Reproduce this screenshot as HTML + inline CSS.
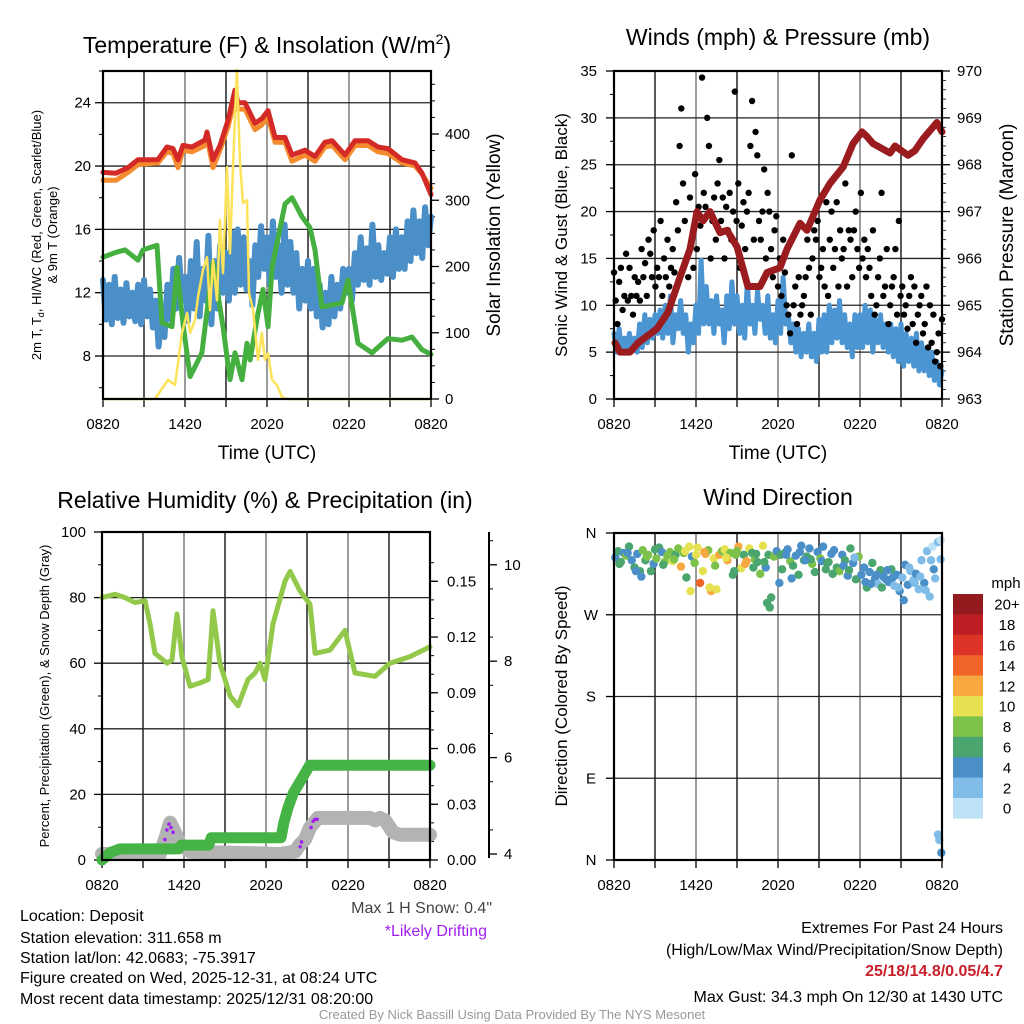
<!DOCTYPE html>
<html><head><meta charset="utf-8">
<style>
html,body{margin:0;padding:0;background:#fff;}
svg{display:block;font-family:"Liberation Sans",sans-serif;}
</style></head>
<body>
<svg id="fig" width="1024" height="1024" viewBox="0 0 1024 1024" xmlns="http://www.w3.org/2000/svg">
<rect width="1024" height="1024" fill="#fff"/>
<g id="p1"></g>
<g id="p2"></g>
<g id="p3"></g>
<g id="p4"></g>

<text x="267" y="53" font-size="23" text-anchor="middle">Temperature (F) &amp; Insolation (W/m<tspan font-size="14" dy="-9">2</tspan><tspan dy="9">)</tspan></text>
<text x="778" y="45" font-size="23" text-anchor="middle">Winds (mph) &amp; Pressure (mb)</text>
<text x="265" y="508" font-size="23" text-anchor="middle">Relative Humidity (%) &amp; Precipitation (in)</text>
<text x="778" y="505" font-size="23" text-anchor="middle">Wind Direction</text>

<text x="267" y="459" font-size="19" text-anchor="middle">Time (UTC)</text>
<text x="778" y="459" font-size="19" text-anchor="middle">Time (UTC)</text>

<text transform="translate(41,235) rotate(-90)" font-size="13" text-anchor="middle">2m T, T<tspan font-size="9" dy="3">d</tspan><tspan dy="-3">, HI/WC (Red, Green, Scarlet/Blue)</tspan></text>
<text transform="translate(57,235) rotate(-90)" font-size="13" text-anchor="middle">&amp; 9m T (Orange)</text>
<text transform="translate(500,235) rotate(-90)" font-size="19" text-anchor="middle">Solar Insolation (Yellow)</text>
<text transform="translate(567,235) rotate(-90)" font-size="17" text-anchor="middle">Sonic Wind &amp; Gust (Blue, Black)</text>
<text transform="translate(1013,235) rotate(-90)" font-size="19" text-anchor="middle">Station Pressure (Maroon)</text>
<text transform="translate(49,696) rotate(-90)" font-size="13" text-anchor="middle">Percent, Precipitation (Green), &amp; Snow Depth (Gray)</text>
<text transform="translate(567,696) rotate(-90)" font-size="17" text-anchor="middle">Direction (Colored By Speed)</text>

<text x="492" y="913" font-size="16" fill="#444" text-anchor="end">Max 1 H Snow: 0.4"</text>
<text x="487" y="936" font-size="16" fill="#a020f0" text-anchor="end">*Likely Drifting</text>

<g font-size="16">
<text x="20" y="921">Location: Deposit</text>
<text x="20" y="943">Station elevation: 311.658 m</text>
<text x="20" y="963">Station lat/lon: 42.0683; -75.3917</text>
<text x="20" y="983">Figure created on Wed, 2025-12-31, at 08:24 UTC</text>
<text x="20" y="1004">Most recent data timestamp: 2025/12/31 08:20:00</text>
</g>
<g font-size="16" text-anchor="end">
<text x="1003" y="933">Extremes For Past 24 Hours</text>
<text x="1003" y="955">(High/Low/Max Wind/Precipitation/Snow Depth)</text>
<text x="1003" y="976" fill="#c8202a" font-weight="bold">25/18/14.8/0.05/4.7</text>
<text x="1003" y="1002">Max Gust: 34.3 mph On 12/30 at 1430 UTC</text>
</g>
<text x="512" y="1019" font-size="13" fill="#999" text-anchor="middle">Created By Nick Bassill Using Data Provided By The NYS Mesonet</text>
</svg>

<script>
// ---------- DATA ----------
const timeLabels = ["0820","1420","2020","0220","0820"];
// Panel 1
const tempHours = [0,0.95,1.83,2.56,4.02,4.68,5.12,5.49,5.85,6.51,7.46,7.61,8.05,8.56,9.15,9.66,9.88,10.39,11.12,11.63,12.07,12.59,13.32,13.83,14.78,15.51,16.24,16.76,17.71,18.44,19.39,20.12,20.85,21.88,22.83,23.34,24];
const temp2m = [19.6,19.55,19.9,20.4,20.4,21.2,21.1,20.4,21.3,21.2,21.65,22.15,20.4,21.3,22.9,24.8,24,24,22.7,23.0,23.5,21.8,21.8,20.7,21,20.6,21.5,21.6,20.7,21.6,21.6,21.2,21.1,20.4,20.2,19.55,18.2];
const temp9m = [19.1,19.1,19.6,20.1,20.2,20.9,20.8,19.9,21.0,20.9,21.3,21.8,19.9,21.0,22.5,24.3,23.6,23.6,22.3,22.6,23.1,21.5,21.5,20.3,20.7,20.3,21.2,21.3,20.4,21.3,21.3,20.9,20.8,20.2,20.0,19.5,18.6];
const dewHours = [0,0.95,1.61,2.56,2.93,3.95,4.32,5.05,5.41,5.85,6.37,7.24,8.05,8.78,9.29,9.66,10.17,10.54,10.76,11.34,11.71,12.07,12.37,13.32,13.83,14.56,15.15,15.51,16.02,17.49,17.93,18.66,19.68,20.85,21.88,22.61,23.34,24];
const dewpoint = [14.25,14.55,14.7,14.05,14.7,15.0,10.1,9.85,13.6,10.1,6.7,8.2,13.9,9.85,6.5,8.2,6.5,8.8,7.75,10.7,12.2,9.85,13.6,17.6,18.0,16.8,16.1,14.7,11.1,11.35,12.8,8.8,8.2,9.1,9.0,9.2,8.4,8.1];
const windChill = [12.8,10.3,12.5,10.0,13.0,10.4,12.2,10.1,12.6,10.5,12.0,10.2,12.5,10.0,
 12.8,10.5,12.2,9.8,11.5,8.6,10.5,9.2,12.5,10.3,13.5,11.0,14.2,11.5,
 13.0,10.2,14.0,11.0,15.2,10.5,13.5,11.5,15.6,10.0,14.0,11.0,15.0,12.0,
 14.5,11.5,15.8,12.0,16.0,12.5,15.5,12.2,14.0,11.2,15.0,13.0,16.2,13.5,
 15.5,12.5,16.5,13.0,15.0,12.0,16.3,12.5,15.2,12.0,14.5,11.0,13.5,11.5,
 14.0,11.0,13.5,10.5,12.5,9.8,12.0,10.0,13.0,10.5,12.5,11.0,13.5,12.0,
 13.5,11.5,14.5,12.5,15.5,12.8,14.8,12.5,16.3,13.0,15.0,12.8,14.5,13.2,
 15.5,13.0,16.0,13.5,15.5,13.5,16.5,14.0,17.2,14.5,16.5,14.2,17.4,15.0,16.8];
const solarHours = [0,3.8,4.76,5.27,5.78,6.15,6.37,6.73,6.95,7.32,7.61,7.83,8.05,8.34,8.56,8.78,9.07,9.29,9.51,9.8,10.02,10.24,10.54,10.68,10.98,11.34,11.63,11.85,12.07,12.37,12.73,13.1,13.54,24];
const solar = [0,0,29,21,100,130,100,119,154,195,214,134,210,149,270,190,350,220,350,497,360,296,300,160,134,59,100,59,69,29,21,3,0,0];
const p1LeftTicks = [8,12,16,20,24];
const p1RightTicks = [0,100,200,300,400];
// Panel 2
const windSpeed = [7,5,7.5,5,6.5,5,7,5.5,6.5,5, 8,5.5,9,6,8.5,6.5,9,7, 9.5,6.5,10,7,11,6,9,7.5,
 10.5,7,9,5,8,6,10,7,14.8,8, 12,8,10.5,7,11,8,9.5,6,11,7.5,12.5,8, 11,7,10,6.5,12.5,8,10,7,11.5,8.5,
 10,7,11,6.5,9,6,10.5,7,13,8, 9,6,8,5,7.5,4.5,7,5,8,4.5,7,4,8.5,5, 9,5,10,6,9.5,6.5,10.5,6,9,5.5,8,4.5,9,5.5,
 9,5.5,10,6,9.5,5,8.5,6,9,5.5,8,5, 8,4.5,7.5,4,8,3.5,7,4,6.5,3.5,7,3,6,3,5.5,2.5,5,2,4,1.5,3];
const windGust = [13.5,10.5,8,12.5,14,9.5,11,15.5,10.5,14,11,9,13,11,12.5,10.5,
 16,13,14.5,11,17,15.5,13,18,12,14,13,19,11,15,13,17,12,14,16,13.5,
 21,18,27,31,23,19,15,13,21.5,17,14,24,16,20.5,18.5,34.3,22,20.5,30,27,15,19,21.5,17,23,25.5,
 19,21.5,15,20.5,18,22,17,20,32.8,19,23,14,18.5,21,16,20,22,27,31.8,17,28.5,26,19,17,20,24.5,15,22,20,
 16,13,18,19.5,12,15,11,17,13.5,10,9,7,26,10,12,8,13,9,10,11,13,17,14,9,
 15,18,17,19,13,14,16,12,21,11,17,20,14,16,21,12,18,15,16,23,12,18,17,13,18,20,16,14,22,15,17,13,
 16,14,11,18,9,10,13,15,22,11,12,16,8,10,12,13,16,9,19,11,
 12,9,10,7.5,11,13,8,12,6,9,10,11,7,8,12,5.5,10,6,9,4,5,7,3.5,8.5];
const pressHours = [0.07,0.44,1.17,1.76,3.15,3.95,4.83,5.56,6.07,6.51,7.02,7.76,8.27,9.0,9.8,10.68,11.2,12.15,12.66,13.61,14.12,15.07,15.8,16.76,17.49,18.15,18.51,18.95,20.2,20.56,21.51,22.02,22.61,23.63,24];
const pressure = [964.2,964.0,964.0,964.2,964.5,964.85,965.6,966.2,967.0,966.8,967.0,966.55,966.6,966.25,965.4,965.4,965.7,965.8,966.2,966.75,966.6,967.25,967.6,967.95,968.45,968.7,968.6,968.45,968.25,968.4,968.2,968.3,968.55,968.9,968.7];
const p2LeftTicks = [0,5,10,15,20,25,30,35];
const p2RightTicks = [963,964,965,966,967,968,969,970];
// Panel 3
const rhHours = [0,0.95,1.68,2.41,3.15,3.51,3.88,4.76,5.12,5.49,5.85,6.44,7.17,7.76,8.12,8.63,9.37,9.95,10.68,11.2,11.56,11.93,12.51,13.39,13.76,14.49,15.22,15.59,16.68,17.78,18.51,19.98,21.07,22.54,24];
const rh = [80,81,80,78.5,79,72,63,60,61,75,62,53,54,55,76,60,50,47,55,57,60,55,72,85,88,82,78,63,64,70,57,56,60,62,65];
const precipHours = [0,0.6,1.3,5.6,5.8,7.8,8.0,13.1,13.3,13.6,14.0,14.4,14.8,15.2,24];
const precip = [0,0.004,0.006,0.006,0.008,0.008,0.012,0.012,0.02,0.028,0.036,0.041,0.046,0.051,0.051];
const snowHours = [0,2.78,4.24,4.61,4.98,5.34,5.71,6.44,13.02,14.12,14.49,14.85,15.22,15.8,19.61,19.98,20.34,20.71,21.29,21.8,24];
const snowDepth = [4.0,4.0,4.0,4.3,4.65,4.45,4.2,4.05,4.0,4.05,4.2,4.3,4.55,4.75,4.75,4.7,4.75,4.7,4.45,4.4,4.4];
const driftHours = [4.6,4.75,4.9,5.05,5.2,14.5,14.6,15.3,15.45,15.6,15.75];
const driftDepth = [4.3,4.5,4.62,4.55,4.45,4.15,4.25,4.55,4.68,4.72,4.72];
const p3LeftTicks = [0,20,40,60,80,100];
const p3PrecipTicks = [0,0.03,0.06,0.09,0.12,0.15];
const p3SnowTicks = [4,6,8,10];
// Panel 4
const dirHours = [];
for (let i=0;i<120;i++) dirHours.push(0.1+i*0.2);
const dirDeg = [333,340,328,338,335,345,330,322,337,318, 341,330,336,318,326,332,344,339,328,335,
 339,329,336,343,323,338,311,345,334,327, 344,305,318,337,341,296,332,298,336,340,
 342,330,338,314,336,345,321,336,329,343, 338,331,328,315,346,322,336,289,334,340,
 305,320,338,342,329,324,335,314,346,330, 334,343,326,317,339,332,345,320,328,337,
 341,322,318,336,330,313,343,327,309,334, 314,322,300,317,327,310,304,319,312,309,
 306,320,302,314,296,311,325,303,318,308, 315,298,330,305,340,290,345,310,350,352];
const dirSpeed = [5,6,7,4,8,6,5,7,4,6, 8,7,9,6,4,8,7,5,8,9, 8,10,7,9,12,8,6,10,5,8,
 11,15,10,12,9,13,10,11,12,8, 10,12,8,6,9,12,11,7,13,10, 7,9,6,8,11,5,7,6,8,4,
 5,7,6,4,8,6,5,7,4,6, 7,5,9,6,5,8,4,7,6,5, 4,6,8,5,7,4,6,5,7,8,
 5,4,6,4,7,5,3,6,4,5, 4,6,3,5,4,3,5,4,2,3, 4,3,2,4,3,2,1,3,2,1];
const extraDirHours = [0.4,1.0,1.6,2.4,3.0,4.4,5.2,6.0,6.6,7.4,8.2,9.0,9.6,10.4,11.0,12.2,13.0,13.6,14.4,15.2,16.0,16.8,17.6,18.4,19.2,20.0,20.8,21.6,22.4,23.2,23.7,23.8,23.95,23.9,
 2.0,3.6,5.6,7.0,8.8,10.2,11.2,11.4,12.6,14.0,15.6,17.2,18.8,19.6,20.4,21.2,22.0,22.8,23.4];
const extraDirDeg = [326,338,318,334,342,331,340,336,339,324,333,340,326,337,328,336,310,339,331,329,315,324,333,306,314,319,300,322,312,330,28,22,8,331,
 312,325,296,300,318,322,283,278,336,330,327,319,304,300,311,286,305,297,320];
const extraDirSpeed = [7,4,5,8,6,9,11,10,12,9,11,8,13,6,7,6,5,4,7,4,6,5,3,4,5,4,3,2,3,2,2,2,4,3,
 4,6,10,11,7,6,6,7,4,5,6,7,5,6,4,4,3,2,4];
const speedBinLabels = ["0","2","4","6","8","10","12","14","16","18","20+"];
const speedBinColors = ["#bfe3f6","#7fbde8","#4a8fc7","#4aa56e","#7cc24a","#e6e152","#f7a841","#f0642a","#dc3528","#bd1e24","#931a1d"];
const dirLabels = ["N","E","S","W","N"];
const dirTickVals = [0,90,180,270,360];

// ---------- HELPERS ----------
const NS="http://www.w3.org/2000/svg";
function mk(parent, tag, attrs){
  const e=document.createElementNS(NS,tag);
  for(const k in attrs) e.setAttribute(k,attrs[k]);
  parent.appendChild(e); return e;
}
function txt(parent, x, y, s, size, anchor){
  const t=mk(parent,"text",{x:x,y:y,"font-size":size,"text-anchor":anchor||"middle"});
  t.textContent=s; return t;
}
function poly(parent, xs, ys, fx, fy, color, w){
  let d="";
  for(let i=0;i<xs.length;i++) d+=(i?"L":"M")+fx(xs[i]).toFixed(1)+" "+fy(ys[i]).toFixed(1);
  return mk(parent,"path",{d:d,fill:"none",stroke:color,"stroke-width":w,"stroke-linejoin":"round","stroke-linecap":"round"});
}
function idxHours(n){ const a=[]; for(let i=0;i<n;i++) a.push(i*24/(n-1)); return a; }
function frame(g, L, T, R, B, name){
  for(let i=1;i<8;i++){
    const x=L+(R-L)*i/8;
    const gl=mk(g,"line",{x1:x,y1:T,x2:x,y2:B,stroke:(i%2?"#000":"#666"),"stroke-width":1.3});
    
    
  }
  for(let i=0;i<=8;i++){
    const x=L+(R-L)*i/8;
    mk(g,"line",{x1:x,y1:B,x2:x,y2:B+8,stroke:"#000","stroke-width":1.3});
  }
  for(let i=0;i<5;i++){
    const lb=txt(g,L+(R-L)*i/4,B+30,timeLabels[i],15);
    
    
  }
}
function hgrid(g,L,R,y){ mk(g,"line",{x1:L,y1:y,x2:R,y2:y,stroke:"#222","stroke-width":1.3}); }
function border(g,L,T,R,B){ mk(g,"rect",{x:L,y:T,width:R-L,height:B-T,fill:"none",stroke:"#000","stroke-width":2.2}); }

// ---------- PANEL 1 ----------
(function(){
  const g=document.getElementById("p1");
  const L=103,T=71,R=431,B=399;
  const X=h=>L+h*(R-L)/24, Y=v=>356-(v-8)*15.83, YR=w=>399-w*0.6625;
  frame(g,L,T,R,B,"p1");
  p1LeftTicks.forEach(v=>{ hgrid(g,L,R,Y(v)); mk(g,"line",{x1:L-8,y1:Y(v),x2:L,y2:Y(v),stroke:"#000","stroke-width":1.3});
    const t=txt(g,L-12,Y(v)+5,String(v),15,"end");   });
  for(let v=6;v<=26;v+=2){ if(v%4) mk(g,"line",{x1:L-4,y1:Y(v),x2:L,y2:Y(v),stroke:"#000","stroke-width":1}); }
  p1RightTicks.forEach(w=>{ mk(g,"line",{x1:R,y1:YR(w),x2:R+8,y2:YR(w),stroke:"#000","stroke-width":1.3});
    const t=txt(g,R+14,YR(w)+5,String(w),15,"start");   });
  for(let w=25;w<=475;w+=25){ if(w%100) mk(g,"line",{x1:R,y1:YR(w),x2:R+4,y2:YR(w),stroke:"#000","stroke-width":1}); }
  let e;
  e=poly(g,idxHours(windChill.length),windChill,X,Y,"#4a8fc7",6);
   
  e=poly(g,dewHours,dewpoint,X,Y,"#45b03f",5);
   
  e=poly(g,tempHours,temp9m,X,Y,"#f58b2f",5);
   
  e=poly(g,tempHours,temp2m,X,Y,"#d42a27",5);
   
  e=poly(g,solarHours,solar,X,YR,"#fde35a",2.5);
   
  border(g,L,T,R,B);
})();

// ---------- PANEL 2 ----------
(function(){
  const g=document.getElementById("p2");
  const L=614,T=71,R=942,B=399;
  const X=h=>L+h*(R-L)/24, Y=v=>B-v*(B-T)/35, YR=p=>B-(p-963)*(B-T)/7;
  frame(g,L,T,R,B,"p2");
  p2LeftTicks.forEach(v=>{ hgrid(g,L,R,Y(v)); mk(g,"line",{x1:L-8,y1:Y(v),x2:L,y2:Y(v),stroke:"#000","stroke-width":1.3});
    const t=txt(g,L-17,Y(v)+5,String(v),15,"end");   });
  for(let v=2.5;v<35;v+=5) mk(g,"line",{x1:L-4,y1:Y(v),x2:L,y2:Y(v),stroke:"#000","stroke-width":1});
  p2RightTicks.forEach(p=>{ mk(g,"line",{x1:R,y1:YR(p),x2:R+8,y2:YR(p),stroke:"#000","stroke-width":1.3});
    const t=txt(g,R+15,YR(p)+5,String(p),15,"start");   });
  for(let p=963.2;p<970;p+=0.2){ mk(g,"line",{x1:R,y1:YR(p),x2:R+4,y2:YR(p),stroke:"#000","stroke-width":0.8}); }
  let e=poly(g,idxHours(windSpeed.length),windSpeed,X,Y,"#4a95d2",5);
   
  const gh=idxHours(windGust.length);
  windGust.forEach((v,i)=>{
    const c=mk(g,"circle",{cx:X(gh[i]),cy:Y(v),r:3.2,fill:"#000"});
    
    
  });
  e=poly(g,pressHours,pressure,X,YR,"#9b1c1f",7);
   
  border(g,L,T,R,B);
})();

// ---------- PANEL 3 ----------
(function(){
  const g=document.getElementById("p3");
  const L=102,T=532,R=430,B=860;
  const X=h=>L+h*(R-L)/24, Y=v=>B-v*(B-T)/100, YP=p=>B-p*1858, YS=s=>854-(s-4)*48.2;
  frame(g,L,T,R,B,"p3");
  p3LeftTicks.forEach(v=>{ hgrid(g,L,R,Y(v)); mk(g,"line",{x1:L-8,y1:Y(v),x2:L,y2:Y(v),stroke:"#000","stroke-width":1.3});
    const t=txt(g,L-16,Y(v)+5,String(v),15,"end");   });
  for(let v=10;v<100;v+=20) mk(g,"line",{x1:L-4,y1:Y(v),x2:L,y2:Y(v),stroke:"#000","stroke-width":1});
  p3PrecipTicks.forEach(p=>{ mk(g,"line",{x1:R,y1:YP(p),x2:R+8,y2:YP(p),stroke:"#000","stroke-width":1.3});
    const t=txt(g,R+17,YP(p)+5,p.toFixed(2),15,"start");   });
  for(let p=0.01;p<0.17;p+=0.01) mk(g,"line",{x1:R,y1:YP(p),x2:R+4,y2:YP(p),stroke:"#000","stroke-width":1});
  mk(g,"line",{x1:489,y1:T,x2:489,y2:B-2,stroke:"#000","stroke-width":2});
  p3SnowTicks.forEach(s=>{ mk(g,"line",{x1:489,y1:YS(s),x2:497,y2:YS(s),stroke:"#000","stroke-width":1.3});
    const t=txt(g,504,YS(s)+5,String(s),15,"start");   });
  for(let s=4.5;s<11;s+=1) mk(g,"line",{x1:489,y1:YS(s),x2:493,y2:YS(s),stroke:"#000","stroke-width":1});
  let e=poly(g,snowHours,snowDepth,X,YS,"#b3b3b3",14);
   
  driftHours.forEach((h,i)=>{
    const c=mk(g,"circle",{cx:X(h),cy:YS(driftDepth[i]),r:1.8,fill:"#a020f0"});
    
    
  });
  e=poly(g,precipHours,precip,X,YP,"#46b347",11);
   
  e=poly(g,rhHours,rh,X,Y,"#93c94b",5);
   
  border(g,L,T,R,B);
})();

// ---------- PANEL 4 ----------
(function(){
  const g=document.getElementById("p4");
  const L=614,T=533,R=942,B=860;
  const X=h=>L+h*(R-L)/24, Y=d=>B-d*(B-T)/360;
  frame(g,L,T,R,B,"p4");
  dirTickVals.forEach((d,i)=>{ hgrid(g,L,R,Y(d)); mk(g,"line",{x1:L-8,y1:Y(d),x2:L,y2:Y(d),stroke:"#000","stroke-width":1.3});
    const t=txt(g,L-23,Y(d)+5,dirLabels[i],15,"middle");   });
  function binColor(s){ return speedBinColors[Math.min(10,Math.floor(s/2))]; }
  function dots(hs,ds,ss){
    hs.forEach((h,i)=>{
      const c=mk(g,"circle",{cx:X(h),cy:Y(ds[i]),r:4.2,fill:binColor(ss[i])});
      
      
    });
  }
  dots(dirHours,dirDeg,dirSpeed);
  dots(extraDirHours,extraDirDeg,extraDirSpeed);
  border(g,L,T,R,B);
  const cb=mk(g,"g",{});
  
  
  const t0=txt(cb,1006,588,"mph",15,"middle");
   
  const h=20.4, top=594;
  for(let k=0;k<11;k++){
    const idx=10-k;
    const r=mk(cb,"rect",{x:953,y:top+k*h,width:30,height:h+0.3,fill:speedBinColors[idx]});
    
    
    const t=txt(cb,1007,top+k*h+h/2+5.5,speedBinLabels[idx],15,"middle");
    
    
  }
})();
</script>
</body></html>
